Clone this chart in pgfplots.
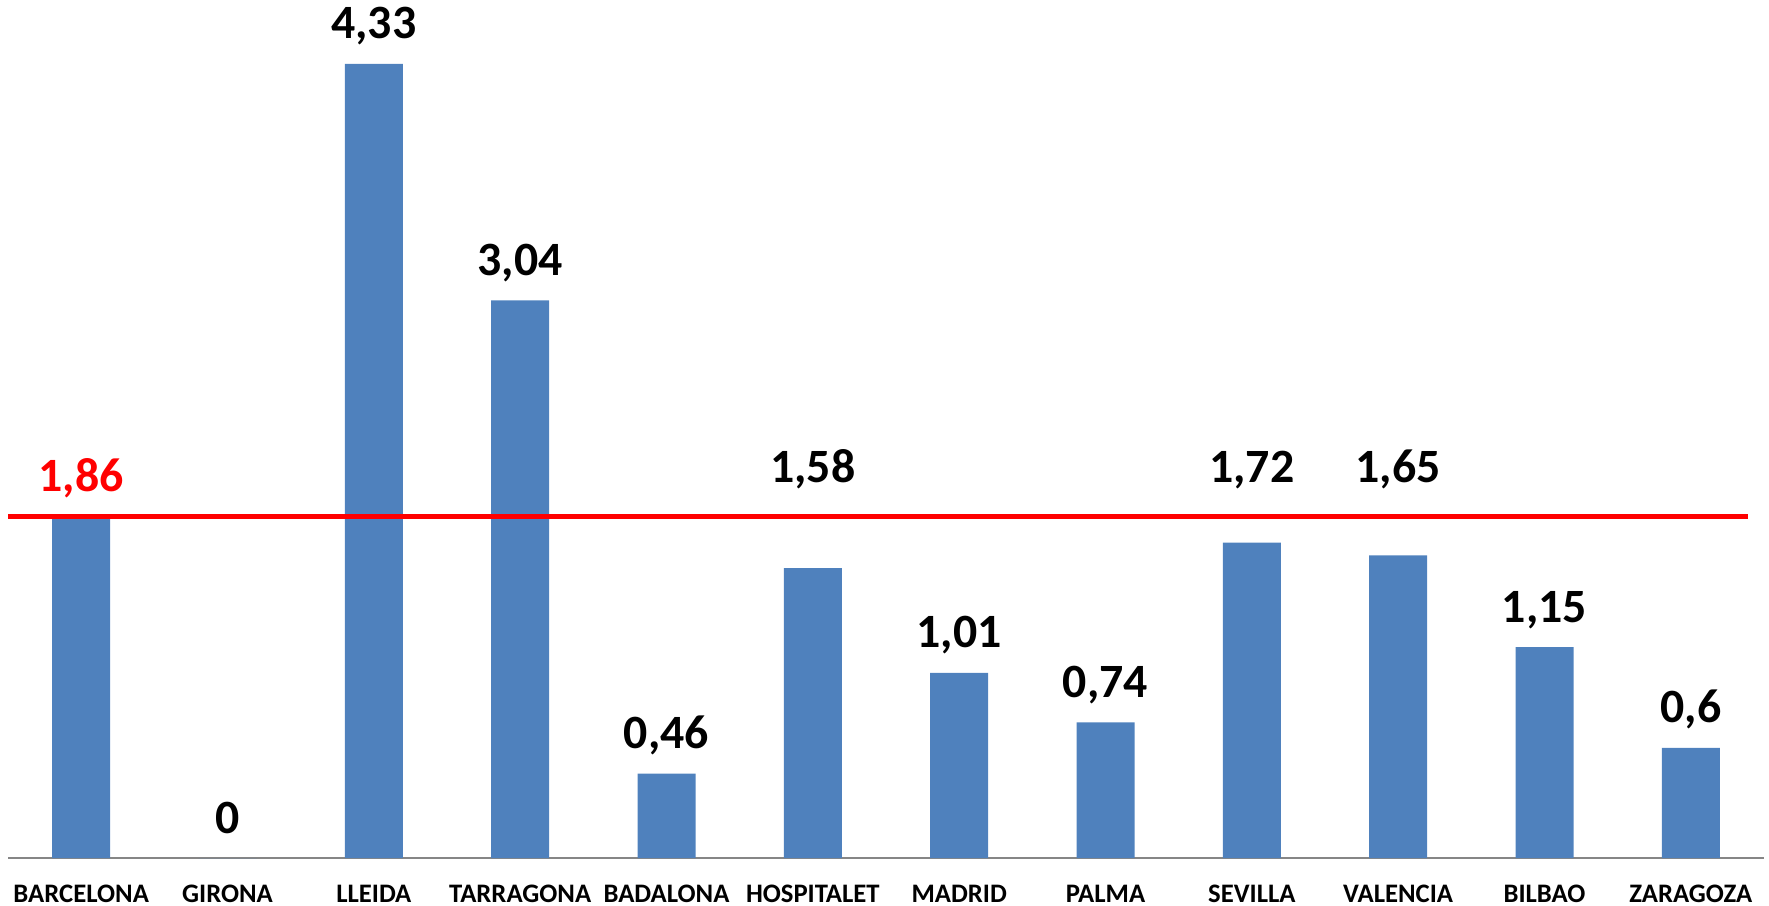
\documentclass[border=0pt]{standalone}
\usepackage{fontspec}
\setmainfont{Carlito}
\usepackage{pgfplots}
\usepackage{pgfplotstable}
\pgfplotsset{compat=1.18}
\definecolor{barblue}{HTML}{4F81BD}
\definecolor{axisgray}{HTML}{868686}

\pgfplotstableread{
x y
0 1.86
1 0
2 4.33
3 3.04
4 0.46
5 1.58
6 1.01
7 0.74
8 1.72
9 1.65
10 1.15
11 0.6
}\bars

\pgfplotstableread{
x ly label
1 0 0
2 4.33 4,33
3 3.04 3,04
4 0.46 0,46
5 1.91 1,58
6 1.01 1,01
7 0.74 0,74
8 1.91 1,72
9 1.91 1,65
10 1.15 1,15
11 0.6 0,6
}\labels

\pgfplotstableread{
x ly label
0 1.86 1,86
}\redlabel

\begin{document}
\begin{tikzpicture}
\begin{axis}[
  at={(0,0)}, anchor=south west,
  scale only axis, width=878bp, height=429bp,
  xmin=-0.5, xmax=11.5, ymin=0, ymax=4.678,
  axis line style={draw=none},
  ytick=\empty,
  xtick={0,...,11},
  xticklabels={BARCELONA,GIRONA,LLEIDA,TARRAGONA,BADALONA,HOSPITALET,MADRID,PALMA,SEVILLA,VALENCIA,BILBAO,ZARAGOZA},
  major tick length=0pt,
  xticklabel style={font=\fontsize{13.4}{16}\selectfont\bfseries, anchor=base, yshift=-22bp, inner sep=0pt},
  clip=false,
]
\addplot[axisgray, line width=0.8bp, forget plot] coordinates {(-0.5,0) (11.5,0)};
\addplot[ybar, bar width=29bp, bar shift=0pt, fill=barblue, draw=none] table[x=x,y=y]{\bars};
\addplot[red, line width=2.5bp] coordinates {(-0.5,1.86) (11.39,1.86)};
\addplot[draw=none, mark=none, nodes near coords, point meta=explicit symbolic,
  nodes near coords align={anchor=base},
  every node near coord/.style={yshift=12.5bp, inner sep=0pt, font=\fontsize{24}{29}\selectfont\bfseries, text=black}]
  table[x=x, y=ly, meta=label]{\labels};
\addplot[draw=none, mark=none, nodes near coords, point meta=explicit symbolic,
  nodes near coords align={anchor=base},
  every node near coord/.style={yshift=12.5bp, inner sep=0pt, font=\fontsize{24}{29}\selectfont\bfseries, text=red}]
  table[x=x, y=ly, meta=label]{\redlabel};
\end{axis}
\pgfresetboundingbox
\path[use as bounding box] (-4bp,-24bp) rectangle (880.5bp,429bp);
\end{tikzpicture}
\end{document}
